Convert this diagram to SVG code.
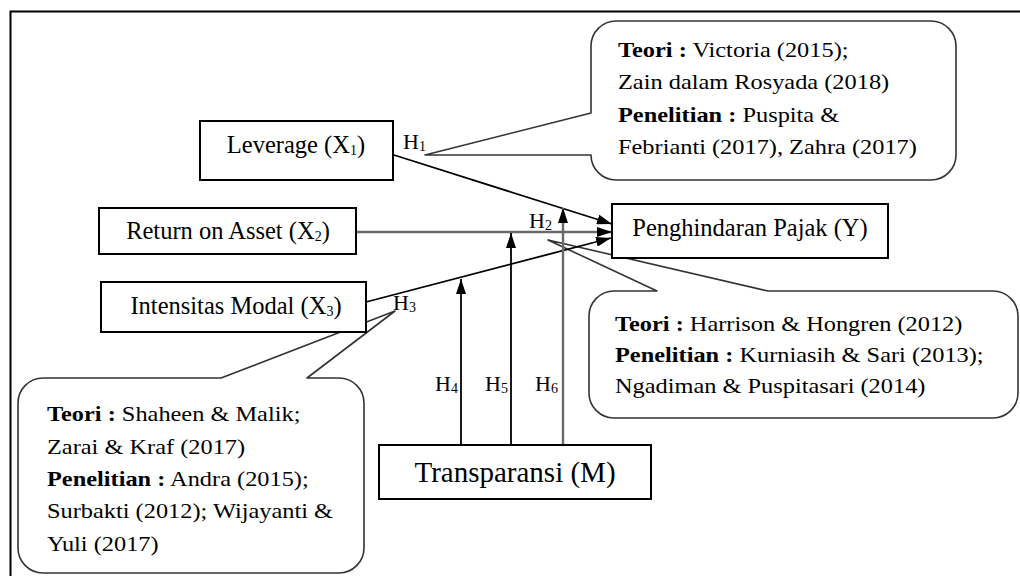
<svg xmlns="http://www.w3.org/2000/svg" width="1020" height="576" viewBox="0 0 1020 576">
<style>
text{font-family:"Liberation Serif","Times New Roman",serif;fill:#000;}
.ct{font-size:21px;}
.lbl{font-size:24.5px;}
.hl{font-size:22px;}
.big{font-size:29px;}
.b{font-weight:bold;}
.sub{font-size:14px;}
.box{fill:#fff;stroke:#000;stroke-width:2;}
.call{fill:#fff;stroke:#333;stroke-width:1.6;stroke-linejoin:round;}
.con{fill:none;stroke:#000;stroke-width:1.8;}
.gray{stroke:#6a6a6a;stroke-width:2.4;}
</style>
<defs>
<marker id="ah" viewBox="0 0 15 10" refX="15" refY="5" markerWidth="15" markerHeight="10" markerUnits="userSpaceOnUse" orient="auto">
<path d="M0,0 L15,5 L0,10 Z" fill="#000"/>
</marker>
</defs>
<rect x="10.5" y="11.5" width="1020" height="600" fill="#fff" stroke="#000" stroke-width="2"/>

<g id="callout-h1">
<path class="call" d="M616,21 H931 A25,25 0 0 1 956,46 V155 A25,25 0 0 1 931,180 H616 A25,25 0 0 1 591,155 L425,155 L591,113 V46 A25,25 0 0 1 616,21 Z"/>
<g transform="translate(618 0) scale(1.16 1)">
<text class="ct" x="0" y="57"><tspan class="b">Teori :</tspan> Victoria (2015);</text>
<text class="ct" x="0" y="89">Zain dalam Rosyada (2018)</text>
<text class="ct" x="0" y="122"><tspan class="b">Penelitian :</tspan> Puspita &amp;</text>
<text class="ct" x="0" y="154">Febrianti (2017), Zahra (2017)</text>
</g>
</g>

<g id="callout-h2">
<path class="call" d="M614,291 H657 L548,240 L768,291 H993 A25,25 0 0 1 1018,316 V393 A25,25 0 0 1 993,418 H614 A25,25 0 0 1 589,393 V316 A25,25 0 0 1 614,291 Z"/>
<g transform="translate(615 0) scale(1.16 1)">
<text class="ct" x="0" y="331"><tspan class="b">Teori :</tspan> Harrison &amp; Hongren (2012)</text>
<text class="ct" x="0" y="362"><tspan class="b">Penelitian :</tspan> Kurniasih &amp; Sari (2013);</text>
<text class="ct" x="0" y="393">Ngadiman &amp; Puspitasari (2014)</text>
</g>
</g>

<g id="callout-h3">
<path class="call" d="M43,378 H221 L395,311 L307,378 H339 A25,25 0 0 1 364,403 V548 A25,25 0 0 1 339,573 H43 A25,25 0 0 1 18,548 V403 A25,25 0 0 1 43,378 Z"/>
<g transform="translate(47 0) scale(1.16 1)">
<text class="ct" x="0" y="421"><tspan class="b">Teori :</tspan> Shaheen &amp; Malik;</text>
<text class="ct" x="0" y="454">Zarai &amp; Kraf (2017)</text>
<text class="ct" x="0" y="486"><tspan class="b">Penelitian :</tspan> Andra (2015);</text>
<text class="ct" x="0" y="518">Surbakti (2012); Wijayanti &amp;</text>
<text class="ct" x="0" y="551">Yuli (2017)</text>
</g>
</g>

<g id="connectors">
<line class="con" x1="394" y1="155" x2="612" y2="224" marker-end="url(#ah)"/>
<line class="con gray" x1="356" y1="232" x2="612" y2="232" marker-end="url(#ah)"/>
<line class="con" x1="366" y1="302" x2="611" y2="238" marker-end="url(#ah)"/>
<line class="con" x1="461" y1="445" x2="461" y2="279" marker-end="url(#ah)"/>
<line class="con" x1="511" y1="445" x2="511" y2="233" marker-end="url(#ah)"/>
<line class="con gray" x1="563" y1="445" x2="563" y2="208" marker-end="url(#ah)"/>
</g>

<g id="hyp-labels">
<text class="hl" x="403" y="149">H<tspan class="sub" dy="2">1</tspan></text>
<text class="hl" x="529" y="228">H<tspan class="sub" dy="2">2</tspan></text>
<text class="hl" x="393" y="310">H<tspan class="sub" dy="2">3</tspan></text>
<text class="hl" x="435" y="391">H<tspan class="sub" dy="2">4</tspan></text>
<text class="hl" x="485" y="391">H<tspan class="sub" dy="2">5</tspan></text>
<text class="hl" x="535" y="391">H<tspan class="sub" dy="2">6</tspan></text>
</g>

<g id="node-leverage">
<rect class="box" x="200" y="121" width="193" height="59"/>
<text class="lbl" x="296" y="153" text-anchor="middle">Leverage (X<tspan class="sub" dy="2">1</tspan><tspan dy="-2">)</tspan></text>
</g>
<g id="node-roa">
<rect class="box" x="99" y="208" width="257" height="46"/>
<text class="lbl" x="228" y="239" text-anchor="middle">Return on Asset (X<tspan class="sub" dy="2">2</tspan><tspan dy="-2">)</tspan></text>
</g>
<g id="node-intensitas">
<rect class="box" x="101" y="282" width="265" height="50"/>
<text class="lbl" x="236" y="314" text-anchor="middle">Intensitas Modal (X<tspan class="sub" dy="2">3</tspan><tspan dy="-2">)</tspan></text>
</g>
<g id="node-penghindaran">
<rect class="box" x="612" y="204" width="276" height="54"/>
<text class="lbl" x="750" y="236" text-anchor="middle">Penghindaran Pajak (Y)</text>
</g>
<g id="node-transparansi">
<rect class="box" x="379" y="445" width="272" height="54"/>
<text class="big" x="515" y="482" text-anchor="middle">Transparansi (M)</text>
</g>
</svg>
